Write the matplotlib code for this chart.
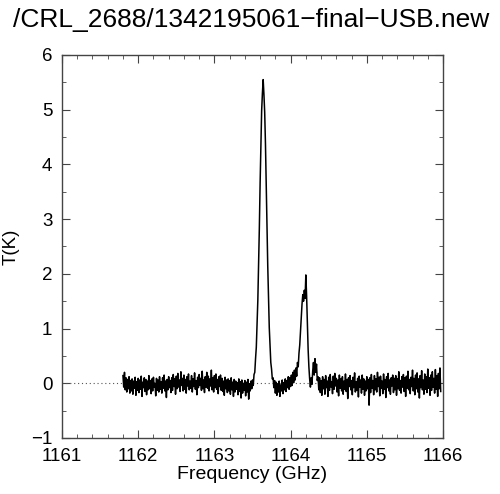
import matplotlib

matplotlib.use("Agg")
import matplotlib.pyplot as plt
import numpy as np
from matplotlib.ticker import MultipleLocator


TITLE = "/CRL_2688/1342195061\u2212final\u2212USB.new"
XLABEL = "Frequency (GHz)"
YLABEL = "T(K)"

FREQ_START = 1161.80
FREQ_STEP = 0.01

# baseline, 1161.80 .. 1163.49
T_LEFT = [
    0.14, -0.07, 0.20, -0.12, 0.10, -0.16, 0.07, -0.10, 0.12, -0.18,
    0.05, -0.14, 0.08, -0.20, 0.04, -0.09, 0.11, -0.22, 0.03, -0.13,
    0.09, -0.17, 0.06, -0.11, 0.13, -0.24, 0.02, -0.08, 0.10, -0.15,
    0.07, -0.21, 0.04, -0.12, 0.14, -0.10, 0.05, -0.19, 0.08, -0.14,
    0.11, -0.07, 0.00, -0.23, 0.09, -0.13, 0.06, -0.16, 0.12, -0.11,
    0.03, -0.18, 0.10, -0.09, 0.15, -0.14, 0.04, -0.26, 0.07, -0.12,
    0.12, -0.08, 0.05, -0.17, 0.10, -0.13, 0.16, -0.06, 0.08, -0.20,
    0.13, -0.10, 0.18, -0.07, 0.06, -0.15, 0.21, -0.04, 0.09, -0.14,
    0.15, -0.11, 0.07, -0.18, 0.12, -0.05, 0.17, -0.12, 0.04, -0.09,
    0.14, -0.16, 0.08, -0.06, 0.19, -0.11, 0.05, -0.21, 0.11, -0.08,
    0.16, -0.04, 0.09, -0.13, 0.22, -0.10, 0.06, -0.17, 0.12, -0.07,
    0.20, -0.09, 0.13, -0.14, 0.08, -0.05, 0.24, -0.12, 0.10, -0.16,
    0.14, -0.08, 0.17, -0.11, 0.07, -0.19, 0.12, -0.06, 0.15, -0.13,
    0.09, -0.15, 0.04, -0.22, 0.11, -0.10, 0.06, -0.17, 0.08, -0.14,
    0.05, -0.20, 0.10, -0.12, 0.02, -0.24, 0.07, -0.16, 0.04, -0.11,
    0.01, -0.21, 0.08, -0.15, 0.03, -0.27, 0.06, -0.18, 0.00, -0.13,
    0.05, -0.23, 0.02, -0.16, 0.07, -0.29, -0.01, -0.14, 0.04, -0.10,
]

# main line, 1163.50 .. 1163.78
T_PEAK1 = [
    0.06, -0.04, 0.16, 0.20, 0.45, 0.66, 1.08, 1.52, 2.20, 2.85,
    3.66, 4.33, 4.98, 5.30, 5.55, 5.28, 4.95, 4.38, 3.62, 2.90,
    2.15, 1.57, 1.02, 0.70, 0.38, 0.26, 0.08, 0.10, -0.08,
]

# between the lines, 1163.79 .. 1164.08
T_MID = [
    0.05, -0.18, 0.02, -0.22, -0.01, -0.16, 0.04, -0.24, -0.03, -0.14,
    0.06, -0.19, 0.01, -0.12, 0.08, -0.15, 0.05, -0.08, 0.12, -0.11,
    0.10, -0.06, 0.15, -0.04, 0.20, 0.01, 0.24, 0.06, 0.28, 0.13,
]

# second line, 1164.09 .. 1164.27
T_PEAK2 = [
    0.38, 0.30, 0.55, 0.70, 0.95, 1.20, 1.45, 1.62, 1.50, 1.70,
    1.55, 1.98, 1.60, 1.10, 0.62, 0.30, 0.08, -0.07, 0.10,
]

# weak feature, 1164.28 .. 1164.37
T_BUMP = [-0.02, 0.22, 0.38, 0.15, 0.45, 0.20, 0.35, 0.05, 0.12, -0.12]

# baseline, 1164.38 .. 1165.97
T_RIGHT = [
    0.10, -0.17, 0.05, -0.22, 0.12, -0.10, 0.07, -0.20, 0.14, -0.08,
    0.04, -0.24, 0.11, -0.13, 0.16, -0.07, 0.03, -0.19, 0.13, -0.11,
    0.18, -0.05, 0.09, -0.16, 0.06, -0.23, 0.15, -0.09, 0.08, -0.14,
    0.12, -0.20, 0.04, -0.11, 0.17, -0.15, 0.07, -0.28, 0.10, -0.06,
    0.14, -0.12, 0.05, -0.21, 0.11, -0.08, 0.19, -0.16, 0.03, -0.13,
    0.09, -0.25, 0.13, -0.07, 0.06, -0.18, 0.15, -0.11, 0.08, -0.22,
    0.04, -0.14, 0.12, -0.10, 0.07, -0.40, 0.10, -0.17, 0.16, -0.09,
    0.05, -0.21, 0.14, -0.12, 0.08, -0.16, 0.20, -0.06, 0.11, -0.23,
    0.13, -0.09, 0.04, -0.19, 0.17, -0.11, 0.07, -0.26, 0.12, -0.08,
    0.18, -0.14, 0.06, -0.20, 0.10, -0.05, 0.15, -0.17, 0.09, -0.12,
    0.14, -0.22, 0.08, -0.10, 0.21, -0.13, 0.05, -0.18, 0.12, -0.07,
    0.16, -0.15, 0.10, -0.24, 0.13, -0.09, 0.22, -0.12, 0.07, -0.19,
    0.11, -0.06, 0.24, -0.14, 0.09, -0.21, 0.15, -0.10, 0.19, -0.16,
    0.08, -0.27, 0.14, -0.08, 0.23, -0.12, 0.06, -0.20, 0.17, -0.11,
    0.12, -0.17, 0.26, -0.09, 0.10, -0.22, 0.15, -0.13, 0.21, -0.07,
    0.09, -0.18, 0.25, -0.11, 0.14, -0.24, 0.18, -0.10, 0.28, -0.15,
]

XLIM = (1161, 1166)
YLIM = (-1, 6)


def setup_style() -> None:
    plt.rcParams.update(
        {
            "font.family": ["Liberation Sans", "DejaVu Sans"],
            "font.size": 13.5,
            "axes.edgecolor": "#444444",
            "axes.linewidth": 1.0,
            "xtick.direction": "in",
            "ytick.direction": "in",
            "xtick.top": True,
            "ytick.right": True,
            "xtick.color": "#444444",
            "ytick.color": "#444444",
            "xtick.labelcolor": "black",
            "ytick.labelcolor": "black",
            "xtick.major.size": 6,
            "ytick.major.size": 6,
            "xtick.minor.size": 3,
            "ytick.minor.size": 3,
            "xtick.major.pad": 7,
            "ytick.major.pad": 7,
            "figure.facecolor": "white",
            "axes.facecolor": "white",
        }
    )


def main() -> None:
    setup_style()
    temp = np.array(T_LEFT + T_PEAK1 + T_MID + T_PEAK2 + T_BUMP + T_RIGHT)
    freq = FREQ_START + FREQ_STEP * np.arange(len(temp))

    fig = plt.figure(figsize=(5.0, 4.94), dpi=100)
    ax = fig.add_axes([0.124, 0.1134, 0.762, 0.7753])

    ax.plot(XLIM, [0, 0], color="#555555", linestyle=(0, (1, 2.5)), linewidth=0.8)
    ax.plot(freq, temp, color="black", linewidth=1.1)

    ax.set_xlim(*XLIM)
    ax.set_ylim(*YLIM)
    ax.xaxis.set_major_locator(MultipleLocator(1))
    ax.xaxis.set_minor_locator(MultipleLocator(0.2))
    ax.yaxis.set_major_locator(MultipleLocator(1))
    ax.yaxis.set_minor_locator(MultipleLocator(0.5))
    ax.set_yticks(range(-1, 7))
    ax.set_yticklabels(["\u22121"] + [str(v) for v in range(0, 7)])

    ax.set_xlabel(XLABEL, labelpad=1, fontsize=14)
    ax.set_ylabel(YLABEL, labelpad=8)
    fig.text(0.502, 0.96, TITLE, ha="center", va="center", fontsize=19)

    fig.savefig("out.png", dpi=100)
    plt.close(fig)


if __name__ == "__main__":
    main()
